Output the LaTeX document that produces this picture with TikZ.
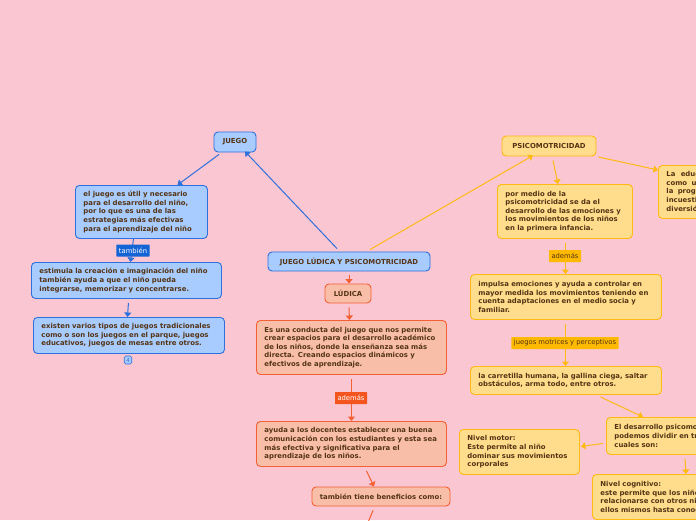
\documentclass[tikz,border=0pt]{standalone}
\usepackage{fontspec}
\setmainfont{DejaVu Sans}
\usetikzlibrary{calc,arrows.meta}
\definecolor{bg}{RGB}{249,198,210}
\definecolor{bfill}{RGB}{168,204,255}
\definecolor{bline}{RGB}{46,112,220}
\definecolor{blab}{RGB}{20,100,214}
\definecolor{ofill}{RGB}{249,190,168}
\definecolor{oline}{RGB}{242,96,52}
\definecolor{olab}{RGB}{244,84,30}
\definecolor{yfill}{RGB}{255,221,140}
\definecolor{yline}{RGB}{255,186,20}
\definecolor{ylab}{RGB}{255,186,0}
\definecolor{txt}{RGB}{84,52,20}
\newcommand{\bxfont}{\fontsize{6.9pt}{8.6pt}\selectfont\bfseries}
\newcommand{\lbfont}{\fontsize{6.8pt}{8pt}\selectfont}
\tikzset{
  box/.style={draw, line width=0.9pt, rounded corners=4pt, font=\bxfont, text=txt,
    align=left, anchor=north west, inner xsep=8pt, inner ysep=1pt},
  title/.style={draw, line width=0.9pt, rounded corners=4pt, font=\bxfont, text=txt,
    align=center, inner sep=1pt},
  bluebox/.style={fill=bfill, draw=bline},
  orangebox/.style={fill=ofill, draw=oline},
  yellowbox/.style={fill=yfill, draw=yline},
  lab/.style={font=\lbfont, inner xsep=2.5pt, inner ysep=0pt, minimum height=12pt, rounded corners=0.5pt},
  tip/.style={-{Triangle[length=4.5pt,width=7pt]}},
  bcon/.style={draw=bline, line width=1pt, tip},
  ocon/.style={draw=oline, line width=1pt, tip},
  ycon/.style={draw=yline, line width=1pt, tip},
}
\begin{document}
\begin{tikzpicture}[x=1pt,y=-1pt]
\useasboundingbox (0,0) rectangle (696,520);
\clip (0,0) rectangle (696,520);
\fill[bg] (0,0) rectangle (696,520);

% blue branch
\node[title,bluebox,minimum width=42pt,minimum height=20pt] (j) at (235,142) {JUEGO};
\node[box,bluebox,text width=116pt,minimum height=53pt] (b1) at (75,185)
 {el juego es útil y necesario\\para el desarrollo del niño,\\por lo que es una de las\\estrategias más efectivas\\para el aprendizaje del niño};
\node[box,bluebox,text width=174pt,minimum height=36pt] (b2) at (31,262)
 {estimula la creación e imaginación del niño\\también ayuda a que el niño pueda\\integrarse, memorizar y concentrarse.};
\node[box,bluebox,text width=175pt,minimum height=36pt] (b3) at (33,317)
 {existen varios tipos de juegos tradicionales\\como o son los juegos en el parque, juegos\\educativos, juegos de mesas entre otros.};
\node[draw=bline,fill=bfill,line width=0.6pt,rounded corners=1.5pt,minimum width=7.5pt,minimum height=8pt,inner sep=0pt,text=bline,font=\fontsize{5.5pt}{6pt}\selectfont] (badge) at (128,360) {4};

% center
\node[title,bluebox,minimum width=162pt,minimum height=19pt] (jlp) at (349,261.5) {JUEGO LÚDICA Y PSICOMOTRICIDAD};
\node[title,orangebox,minimum width=46pt,minimum height=19pt] (lud) at (348,293.5) {LÚDICA};
\node[box,orangebox,text width=174pt,minimum height=54pt] (o1) at (256,320)
 {Es una conducta del juego que nos permite\\crear espacios para el desarrollo académico\\de los niños, donde la enseñanza sea más\\directa. Creando espacios dinámicos y\\efectivos de aprendizaje.};
\node[box,orangebox,text width=174pt,minimum height=45pt] (o2) at (256,421)
 {ayuda a los docentes establecer una buena\\comunicación con los estudiantes y esta sea\\más efectiva y significativa para el\\aprendizaje de los niños.};
\node[title,orangebox,minimum width=138pt,minimum height=19pt] (ben) at (381,496.5) {también tiene beneficios como:};
\coordinate (off) at (364,532);

% yellow branch
\node[title,yellowbox,minimum width=94pt,minimum height=20pt] (psi) at (549,146) {PSICOMOTRICIDAD};
\node[box,yellowbox,text width=119pt,minimum height=54pt] (y1) at (497,184)
 {por medio de la\\psicomotricidad se da el\\desarrollo de las emociones y\\los movimientos de los niños\\en la primera infancia.};
\node[box,yellowbox,text width=150pt,minimum height=53pt] (r1) at (658,165)
 {La\hspace{3pt} educación psicomotriz\\como\hspace{2pt} una herramienta\\la\hspace{2pt} progresión del niño\\incuestionable de la\\diversión y el juego};
\node[box,yellowbox,text width=175pt,minimum height=45pt] (y2) at (470,274)
 {impulsa emociones y ayuda a controlar en\\mayor medida los movimientos teniendo en\\cuenta adaptaciones en el medio socia y\\familiar.};
\node[box,yellowbox,text width=175pt,minimum height=28pt] (y3) at (470,366)
 {la carretilla humana, la gallina ciega, saltar\\obstáculos, arma todo, entre otros.};
\node[box,yellowbox,text width=160pt,minimum height=37pt] (des) at (606,417)
 {El desarrollo psicomotor lo\\podemos dividir en tres niveles\\cuales son:};
\node[box,yellowbox,text width=104pt,minimum height=45pt] (mot) at (459,429)
 {Nivel motor:\\Este permite al niño\\dominar sus movimientos\\corporales};
\node[box,yellowbox,text width=170pt,minimum height=45pt] (cog) at (592,474)
 {Nivel cognitivo:\\este permite que los niños\\relacionarse con otros niños y\\ellos mismos hasta conocer};

% connectors
\draw[bcon] ($(j.south)+(-16,2)$) -- ($(b1.north)+(36,0)$);
\draw[bcon] ($(jlp.north)+(-12,-3)$) -- ($(j.south)+(10,-1)$);
\draw[bcon] ($(b1.south)+(-8,0)$) -- ($(b2.north)+(4,0)$);
\draw[bcon] ($(b2.south)+(2,4)$) -- ($(b3.north)+(-1.5,0)$);
\node[lab,fill=blab,text=white] (l1) at (133,250.5) {también};

\draw[ycon] ($(jlp.north)+(21,-2)$) -- ($(psi.south)+(-16,-1)$);
\draw[ocon] ($(jlp.south)+(0,4)$) -- ($(lud.north)+(1,0)$);
\draw[ocon] ($(lud.south)+(1,4)$) -- ($(o1.north)+(-2,0)$);
\draw[ocon] ($(o1.south)+(0,4)$) -- ($(o2.north)+(0,0)$);
\node[lab,fill=olab,text=white] (l2) at (351,398) {además};
\draw[ocon] ($(o2.south)+(15,4)$) -- ($(ben.north)+(-7,0)$);
\draw[draw=oline,line width=1pt] ($(ben.south)+(-8,4)$) -- (off);

\draw[ycon] ($(psi.south)+(4,4)$) -- ($(y1.north)+(-7,0)$);
\draw[ycon] ($(psi.east)+(2,11)$) -- ($(r1.north west)+(0,5)$);
\draw[ycon] ($(y1.south)+(0.5,4)$) -- ($(y2.north)+(-0.5,0)$);
\node[lab,fill=ylab,text=txt] (l3) at (565,256) {además};
\draw[ycon] ($(y2.south)+(-0.5,4)$) -- ($(y3.north)+(-0.5,0)$);
\node[lab,fill=ylab,text=txt] (l4) at (565,343) {juegos motrices y perceptivos};
\draw[ycon] ($(y3.south)+(34.5,2)$) -- ($(des.north west)+(37,0)$);
\draw[ycon] ($(des.west)+(-3,7.5)$) -- ($(mot.east)+(1,-5.5)$);
\draw[ycon] ($(des.south west)+(79,4)$) -- ($(cog.north west)+(94,0)$);
\end{tikzpicture}
\end{document}
